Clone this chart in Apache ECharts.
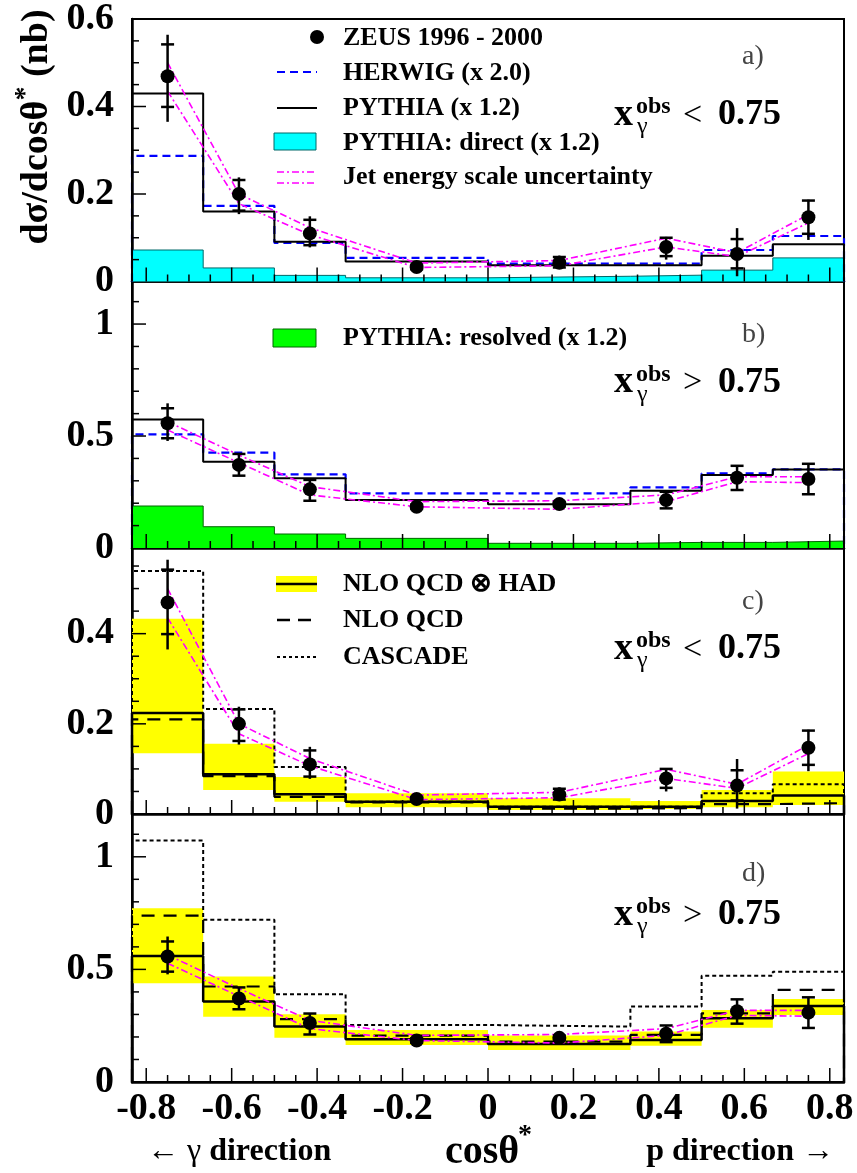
<!DOCTYPE html>
<html><head><meta charset="utf-8">
<script src="https://cdn.jsdelivr.net/npm/echarts@6/dist/echarts.min.js"></script>
<style>html,body{margin:0;padding:0;background:#fff}#c{width:857px;height:1173px}</style>
</head><body><div id="c"></div>
<script>
// ---------- data ----------
const binEdges = [-0.8333, -0.6667, -0.5, -0.3333, 0, 0.3333, 0.5, 0.6667, 0.8333];
const pointX = [-0.75, -0.583, -0.417, -0.167, 0.167, 0.417, 0.583, 0.75];
const xTickLabels = [-0.8, -0.6, -0.4, -0.2, 0, 0.2, 0.4, 0.6, 0.8];
const yTickLabelsLow = [0, 0.2, 0.4, 0.6];
const yTickLabelsHigh = [0, 0.5, 1];

// ZEUS data, x_gamma^obs < 0.75 (panels a, c)
const lowVal    = [0.469, 0.200, 0.110, 0.033, 0.043, 0.079, 0.063, 0.147];
const lowStatLo = [0.399, 0.162, 0.083, 0.028, 0.032, 0.058, 0.030, 0.109];
const lowStatHi = [0.542, 0.232, 0.141, 0.038, 0.056, 0.100, 0.097, 0.185];
const lowTotLo  = [0.365, 0.154, 0.078, 0.027, 0.030, 0.050, 0.012, 0.095];
const lowTotHi  = [0.564, 0.238, 0.149, 0.039, 0.059, 0.102, 0.122, 0.187];
const lowJesUp  = [0.500, 0.200, 0.123, 0.042, 0.048, 0.099, 0.066, 0.153];
const lowJesDn  = [0.435, 0.178, 0.107, 0.032, 0.036, 0.079, 0.057, 0.134];

// ZEUS data, x_gamma^obs > 0.75 (panels b, d)
const highVal    = [0.557, 0.371, 0.262, 0.184, 0.196, 0.214, 0.314, 0.308];
const highStatLo = [0.490, 0.323, 0.211, 0.174, 0.186, 0.177, 0.259, 0.240];
const highStatHi = [0.624, 0.420, 0.304, 0.194, 0.206, 0.251, 0.367, 0.376];
const highTotLo  = [0.478, 0.323, 0.211, 0.172, 0.184, 0.177, 0.259, 0.240];
const highTotHi  = [0.646, 0.420, 0.304, 0.196, 0.208, 0.251, 0.367, 0.376];
const highJesUp  = [0.564, 0.415, 0.274, 0.207, 0.211, 0.237, 0.318, 0.318];
const highJesDn  = [0.527, 0.381, 0.237, 0.184, 0.173, 0.207, 0.296, 0.292];

// MC predictions (per bin)
const herwigLow   = [0.287, 0.173, 0.088, 0.054, 0.041, 0.041, 0.072, 0.104];
const pythiaLow   = [0.430, 0.160, 0.091, 0.046, 0.037, 0.037, 0.059, 0.085];
const directLow   = [0.072, 0.031, 0.014, 0.0085, 0.012, 0.0145, 0.026, 0.054];
const herwigHigh  = [0.507, 0.426, 0.329, 0.244, 0.244, 0.271, 0.333, 0.351];
const pythiaHigh  = [0.574, 0.385, 0.311, 0.214, 0.195, 0.256, 0.326, 0.351];
const resolvedHigh= [0.1875, 0.095, 0.0625, 0.043, 0.021, 0.025, 0.025, 0.031];

// NLO and CASCADE (per bin)
const nloHadLow   = [0.224, 0.088, 0.044, 0.027, 0.016, 0.016, 0.029, 0.041];
const nloHadLowLo = [0.135, 0.053, 0.027, 0.015, 0.009, 0.011, 0.015, 0.020];
const nloHadLowHi = [0.433, 0.156, 0.082, 0.046, 0.035, 0.029, 0.053, 0.094];
const nloLow      = [0.210, 0.084, 0.038, 0.026, 0.012, 0.013, 0.022, 0.024];
const cascadeLow  = [0.539, 0.233, 0.104, 0.027, 0.016, 0.016, 0.046, 0.066];
const nloHadHigh   = [0.560, 0.357, 0.246, 0.190, 0.169, 0.187, 0.283, 0.338];
const nloHadHighLo = [0.439, 0.290, 0.197, 0.164, 0.142, 0.161, 0.241, 0.298];
const nloHadHighHi = [0.772, 0.468, 0.301, 0.231, 0.206, 0.224, 0.320, 0.369];
const nloHigh      = [0.739, 0.424, 0.279, 0.206, 0.179, 0.209, 0.305, 0.409];
const cascadeHigh  = [1.072, 0.720, 0.390, 0.253, 0.246, 0.335, 0.472, 0.490];

// ---------- layout ----------
const SERIF = "'Liberation Serif','Times New Roman',serif";
const XMIN = -0.8333, XMAX = 0.8333;
const GRID_LEFT = 132, GRID_RIGHT = 13, CHART_W = 857;
const panels = [
  {top: 14,    height: 267.5, max: 0.6,  labels: yTickLabelsLow,  majorStep: 0.2, minorStep: 0.05},
  {top: 281.5, height: 266.5, max: 1.19, labels: yTickLabelsHigh, majorStep: 0.5, minorStep: 0.1},
  {top: 548,   height: 266,   max: 0.59, labels: [0, 0.2, 0.4],   majorStep: 0.2, minorStep: 0.05},
  {top: 814,   height: 268,   max: 1.19, labels: yTickLabelsHigh, majorStep: 0.5, minorStep: 0.1}
];
const fmt = v => String(Math.round(v * 100) / 100);
function isMultiple(v, step) { const r = v / step; return Math.abs(r - Math.round(r)) < 1e-6; }

const grids = [], xAxes = [], yAxes = [];
panels.forEach((p, i) => {
  grids.push({left: GRID_LEFT, right: GRID_RIGHT, top: p.top, height: p.height, show: true,
    borderColor: '#000', borderWidth: 2, backgroundColor: 'transparent'});
  const last = i === panels.length - 1;
  xAxes.push({type: 'value', gridIndex: i, position: 'bottom', min: XMIN, max: XMAX,
    axisLine: {show: true, onZero: false, lineStyle: {color: '#000', width: 2.5}},
    axisTick: {show: false},
    axisLabel: {show: last, customValues: xTickLabels, formatter: fmt, margin: 8,
      fontFamily: SERIF, fontWeight: 'bold', fontSize: 38, color: '#000'},
    splitLine: {show: false}});
  yAxes.push({type: 'value', gridIndex: i, position: 'left', min: 0, max: p.max,
    axisLine: {show: true, onZero: false, lineStyle: {color: '#000', width: 2.5}},
    axisTick: {show: false},
    axisLabel: {show: true, customValues: p.labels, formatter: fmt, margin: 18,
      fontFamily: SERIF, fontWeight: 'bold', fontSize: 38, color: '#000'},
    splitLine: {show: false}});
});

function tickValues(lo, hi, step) {
  const out = [];
  for (let k = Math.ceil(lo / step - 1e-6); k * step <= hi + 1e-6; k++) out.push(Math.round(k * step * 1000) / 1000);
  return out;
}

// ---------- series helpers ----------
function hist(vals, withEdges) {
  const d = [];
  if (withEdges) d.push([binEdges[0], 0]);
  vals.forEach((v, i) => d.push([binEdges[i], v]));
  d.push([binEdges[vals.length], vals[vals.length - 1]]);
  if (withEdges) d.push([binEdges[vals.length], 0]);
  return d;
}
function stepLine(i, vals, color, width, type, z) {
  return {type: 'line', xAxisIndex: i, yAxisIndex: i, step: 'end', data: hist(vals, true),
    symbol: 'none', clip: false, silent: true, z: z || 3,
    lineStyle: {color: color, width: width, type: type || 'solid'}};
}
function fillHist(i, vals, fill, edge) {
  return {type: 'line', xAxisIndex: i, yAxisIndex: i, step: 'end', data: hist(vals, false),
    symbol: 'none', clip: false, silent: true, z: 1,
    lineStyle: {color: edge, width: 1}, areaStyle: {color: fill, opacity: 1}};
}
function band(i, lo, hi) {
  return {type: 'custom', xAxisIndex: i, yAxisIndex: i, z: 1, silent: true,
    encode: {x: [0, 1], y: [2, 3]},
    data: lo.map((v, k) => [binEdges[k], binEdges[k + 1], v, hi[k]]),
    renderItem: (params, api) => {
      const a = api.coord([api.value(0), api.value(3)]);
      const b = api.coord([api.value(1), api.value(2)]);
      return {type: 'rect', shape: {x: a[0], y: a[1], width: b[0] - a[0], height: b[1] - a[1]},
        style: {fill: '#FFFF00'}};
    }};
}
function jes(i, vals) {
  return {type: 'line', xAxisIndex: i, yAxisIndex: i, data: pointX.map((x, k) => [x, vals[k]]),
    symbol: 'none', clip: false, silent: true, z: 4,
    lineStyle: {color: '#FF00FF', width: 1.6, type: [7, 3, 2, 3]}};
}
function errBars(i, totLo, totHi, stLo, stHi) {
  return {type: 'custom', xAxisIndex: i, yAxisIndex: i, z: 5, silent: true,
    encode: {x: 0, y: [1, 2, 3, 4]},
    data: pointX.map((x, k) => [x, totLo[k], totHi[k], stLo[k], stHi[k]]),
    renderItem: (params, api) => {
      const x = api.value(0);
      const p1 = api.coord([x, api.value(1)]), p2 = api.coord([x, api.value(2)]);
      const s1 = api.coord([x, api.value(3)]), s2 = api.coord([x, api.value(4)]);
      const st = {stroke: '#000', lineWidth: 2.5};
      const hw = 6.5;
      return {type: 'group', children: [
        {type: 'line', shape: {x1: p1[0], y1: p1[1], x2: p2[0], y2: p2[1]}, style: st},
        {type: 'line', shape: {x1: s1[0] - hw, y1: s1[1], x2: s1[0] + hw, y2: s1[1]}, style: st},
        {type: 'line', shape: {x1: s2[0] - hw, y1: s2[1], x2: s2[0] + hw, y2: s2[1]}, style: st}
      ]};
    }};
}
function points(i, vals) {
  return {type: 'scatter', xAxisIndex: i, yAxisIndex: i, data: pointX.map((x, k) => [x, vals[k]]),
    symbol: 'circle', symbolSize: 14, itemStyle: {color: '#000', opacity: 1}, z: 6, silent: true};
}

const series = [];
const pointSeriesIndex = [];
function addPoints(i, vals) { pointSeriesIndex[i] = series.length; series.push(points(i, vals)); }
// a)
series.push(fillHist(0, directLow, '#00FFFF', '#006868'),
  stepLine(0, herwigLow, '#0000FF', 2.2, [8, 5]),
  stepLine(0, pythiaLow, '#000', 2),
  jes(0, lowJesUp), jes(0, lowJesDn),
  errBars(0, lowTotLo, lowTotHi, lowStatLo, lowStatHi));
addPoints(0, lowVal);
// b)
series.push(fillHist(1, resolvedHigh, '#00FF00', '#006600'),
  stepLine(1, herwigHigh, '#0000FF', 2.2, [8, 5]),
  stepLine(1, pythiaHigh, '#000', 2),
  jes(1, highJesUp), jes(1, highJesDn),
  errBars(1, highTotLo, highTotHi, highStatLo, highStatHi));
addPoints(1, highVal);
// c)
series.push(band(2, nloHadLowLo, nloHadLowHi),
  stepLine(2, cascadeLow, '#000', 2, [4, 3]),
  stepLine(2, nloLow, '#000', 2.2, [13, 9]),
  stepLine(2, nloHadLow, '#000', 2.5),
  jes(2, lowJesUp), jes(2, lowJesDn),
  errBars(2, lowTotLo, lowTotHi, lowStatLo, lowStatHi));
addPoints(2, lowVal);
// d)
series.push(band(3, nloHadHighLo, nloHadHighHi),
  stepLine(3, cascadeHigh, '#000', 2, [4, 3]),
  stepLine(3, nloHigh, '#000', 2.2, [13, 9]),
  stepLine(3, nloHadHigh, '#000', 2.5),
  jes(3, highJesUp), jes(3, highJesDn),
  errBars(3, highTotLo, highTotHi, highStatLo, highStatHi));
addPoints(3, highVal);

// ---------- annotations ----------
function T(x, y, text, size, weight, align, color) {
  return {type: 'text', z: 100, silent: true, style: {
    text: text, x: x, y: y, fontFamily: SERIF, fontSize: size, fontWeight: weight || 'bold',
    fill: color || '#000', align: align || 'left', textAlign: align || 'left',
    verticalAlign: 'middle', textVerticalAlign: 'middle'}};
}
function L(x1, y1, x2, y2, color, w, dash) {
  const st = {stroke: color, lineWidth: w};
  if (dash) st.lineDash = dash;
  return {type: 'line', z: 100, silent: true, shape: {x1: x1, y1: y1, x2: x2, y2: y2}, style: st};
}
function R(x, y, w, h, fill, stroke) {
  const st = {fill: fill, lineWidth: 1};
  if (stroke) st.stroke = stroke;
  return {type: 'rect', z: 100, silent: true, shape: {x: x, y: y, width: w, height: h}, style: st};
}
const legendFont = 26;
const graphics = [];
// legend a
graphics.push({type: 'circle', z: 100, silent: true, shape: {cx: 317, cy: 37, r: 7}, style: {fill: '#000'}});
graphics.push(T(343, 38, 'ZEUS 1996 - 2000', legendFont));
graphics.push(L(277, 72, 317, 72, '#0000FF', 2.2, [8, 5]));
graphics.push(T(343, 73, 'HERWIG (x 2.0)', legendFont));
graphics.push(L(277, 108, 317, 108, '#000', 2));
graphics.push(T(343, 108, 'PYTHIA (x 1.2)', legendFont));
graphics.push(R(274, 133, 42, 17, '#00FFFF', '#006868'));
graphics.push(T(343, 143, 'PYTHIA: direct (x 1.2)', legendFont));
graphics.push(L(277, 172, 317, 172, '#FF00FF', 1.6, [7, 3, 2, 3]));
graphics.push(L(277, 183, 317, 183, '#FF00FF', 1.6, [7, 3, 2, 3]));
graphics.push(T(343, 177, 'Jet energy scale uncertainty', legendFont));
// legend b
graphics.push(R(273, 329, 43, 18, '#00FF00', '#006600'));
graphics.push(T(343, 338, 'PYTHIA: resolved (x 1.2)', legendFont));
// legend c
graphics.push(R(276, 576, 41, 16, '#FFFF00'));
graphics.push(L(276, 584, 317, 584, '#000', 2.5));
graphics.push(T(343, 584, 'NLO QCD \u2297 HAD', legendFont));
graphics.push(L(277, 620, 317, 620, '#000', 2.5, [13, 8]));
graphics.push(T(343, 620, 'NLO QCD', legendFont));
graphics.push(L(277, 657, 317, 657, '#000', 2, [3, 3]));
graphics.push(T(343, 657, 'CASCADE', legendFont));
// panel labels
[['a)', 57], ['b)', 335], ['c)', 602], ['d)', 874]].forEach(([t, y]) =>
  graphics.push(T(742, y, t, 28, 'normal', 'left', '#444')));
// x_gamma^obs labels
[['<', 0], ['>', 1], ['<', 2], ['>', 3]].forEach(([sgn, i]) => {
  const base = panels[i].top + 101;
  graphics.push(T(614, base, 'x', 38, 'bold'));
  graphics.push(T(636, base - 8, 'obs', 24, 'bold'));
  graphics.push(T(637, base + 12, '\u03b3', 24, 'normal'));
  graphics.push(T(683, base + 1, sgn, 34, 'normal'));
  graphics.push(T(718, base, '0.75', 36, 'bold'));
});
// y-axis title (rotated)
graphics.push({type: 'text', z: 100, silent: true, x: 34, y: 127, rotation: Math.PI / 2,
  style: {text: '{a|d\u03c3/dcos\u03b8}{s|*}{a| (nb)}', x: 0, y: 0,
    align: 'center', textAlign: 'center', verticalAlign: 'middle', textVerticalAlign: 'middle',
    rich: {
      a: {fontFamily: SERIF, fontWeight: 'bold', fontSize: 38, fill: '#000', color: '#000', lineHeight: 44, verticalAlign: 'bottom'},
      s: {fontFamily: SERIF, fontWeight: 'bold', fontSize: 28, fill: '#000', color: '#000', lineHeight: 44, verticalAlign: 'top'}
    }}});
// bottom texts
graphics.push({type: 'text', z: 100, silent: true, style: {text: '{r|\u2190 \u03b3 }{b|direction}', x: 147, y: 1152,
  align: 'left', textAlign: 'left', verticalAlign: 'middle', textVerticalAlign: 'middle',
  rich: {r: {fontFamily: SERIF, fontSize: 32, fill: '#000', color: '#000'},
         b: {fontFamily: SERIF, fontSize: 32, fontWeight: 'bold', fill: '#000', color: '#000'}}}});
graphics.push(T(445, 1153, 'cos\u03b8', 40, 'bold'));
graphics.push(T(518, 1136, '*', 28, 'bold'));
graphics.push({type: 'text', z: 100, silent: true, style: {text: '{b|p direction }{r|\u2192}', x: 834, y: 1152,
  align: 'right', textAlign: 'right', verticalAlign: 'middle', textVerticalAlign: 'middle',
  rich: {r: {fontFamily: SERIF, fontSize: 32, fill: '#000', color: '#000'},
         b: {fontFamily: SERIF, fontSize: 32, fontWeight: 'bold', fill: '#000', color: '#000'}}}});

const chart = echarts.init(document.getElementById('c'), null, {renderer: 'canvas'});
chart.setOption({
  animation: false,
  backgroundColor: '#fff',
  grid: grids, xAxis: xAxes, yAxis: yAxes,
  series: series
});

// pixel position of a value pair in panel i, through the library's coordinate conversion
function toPx(i, val) {
  const finders = [{seriesIndex: pointSeriesIndex[i]}, {gridIndex: i}, {xAxisIndex: i, yAxisIndex: i}];
  for (const f of finders) {
    try {
      const c = chart.convertToPixel(f, val);
      if (c && isFinite(c[0]) && isFinite(c[1])) return c;
    } catch (e) { /* try next */ }
  }
  const p = panels[i];
  const w = CHART_W - GRID_LEFT - GRID_RIGHT;
  return [GRID_LEFT + (val[0] - XMIN) / (XMAX - XMIN) * w, p.top + p.height - val[1] / p.max * p.height];
}

// inside tick marks
const tickEls = [];
panels.forEach((p, i) => {
  tickValues(-0.8, 0.8, 0.05).forEach(v => {
    const c = toPx(i, [v, 0]);
    const len = isMultiple(v, 0.2) ? 14 : 7;
    tickEls.push(L(c[0], c[1], c[0], c[1] - len, '#000', 1.5));
  });
  tickValues(p.minorStep, p.max - 1e-3, p.minorStep).forEach(v => {
    const c = toPx(i, [XMIN, v]);
    const len = isMultiple(v, p.majorStep) ? 14 : 7;
    tickEls.push(L(c[0], c[1], c[0] + len, c[1], '#000', 1.5));
  });
});
chart.setOption({graphic: {elements: graphics.concat(tickEls)}});
</script></body></html>
